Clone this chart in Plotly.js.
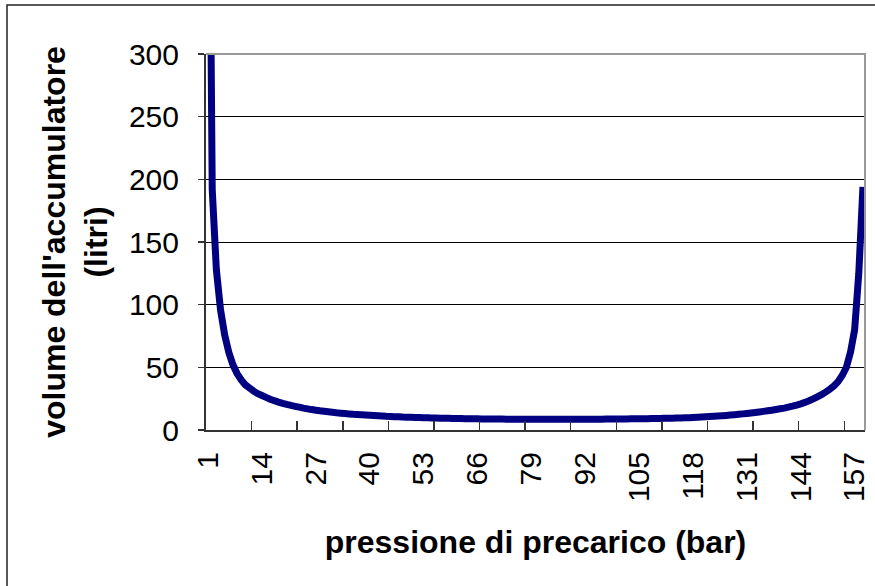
<!DOCTYPE html>
<html>
<head>
<meta charset="utf-8">
<script src="https://cdn.plot.ly/plotly-3.0.1.min.js"></script>
<style>
html,body{margin:0;padding:0;background:#fff;}
#chart{width:875px;height:586px;}
</style>
</head>
<body>
<div id="chart"></div>
<script>
// precharge pressure categories (bar): 1 .. 159
const pressure = Array.from({length: 159}, (_, i) => i + 1);

// accumulator volume (litres), one value per category
const volume = [
  600, 192, 128, 96, 76, 62, 52, 45, 40, 36,
  33.5, 31, 29, 27.5, 26, 24.6, 23.4, 22.3, 21.3, 20.4,
  19.6, 18.9, 18.2, 17.5, 16.9, 16.3, 15.8, 15.3, 14.9, 14.5,
  14.1, 13.7, 13.4, 13.1, 12.8, 12.5, 12.3, 12.1, 11.9, 11.7,
  11.5, 11.3, 11.1, 10.9, 10.8, 10.6, 10.5, 10.3, 10.2, 10.1,
  10.0, 9.9, 9.8, 9.7, 9.6, 9.5, 9.4, 9.35, 9.3, 9.2,
  9.15, 9.1, 9.0, 9.0, 8.95, 8.9, 8.85, 8.8, 8.8, 8.75,
  8.7, 8.7, 8.65, 8.6, 8.6, 8.6, 8.55, 8.55, 8.5, 8.5,
  8.5, 8.5, 8.5, 8.5, 8.5, 8.5, 8.5, 8.5, 8.5, 8.5,
  8.55, 8.55, 8.6, 8.6, 8.6, 8.65, 8.7, 8.7, 8.75, 8.8,
  8.8, 8.85, 8.9, 8.9, 8.95, 9.0, 9.05, 9.1, 9.15, 9.2,
  9.3, 9.35, 9.4, 9.5, 9.6, 9.7, 9.85, 10.0, 10.15, 10.3,
  10.5, 10.7, 10.9, 11.1, 11.35, 11.6, 11.9, 12.2, 12.5, 12.85,
  13.2, 13.6, 14.0, 14.4, 14.85, 15.3, 15.8, 16.35, 16.9, 17.5,
  18.2, 19.0, 19.9, 20.9, 22.0, 23.3, 24.8, 26.4, 28.2, 30.2,
  32.5, 35.2, 38.6, 43.5, 50, 62, 80, 125, 194
];

// category tick labels shown on the x axis
const xTickLabels = [1, 14, 27, 40, 53, 66, 79, 92, 105, 118, 131, 144, 157];
// y axis tick values
const yTickVals = [0, 50, 100, 150, 200, 250, 300];

const N = pressure.length;
const tickMarkEvery = 11;
const tickMarkPos = [];
for (let p = 0.5; p <= N + 0.5; p += tickMarkEvery) tickMarkPos.push(p);

const FONT = 'Liberation Sans, Arial, Helvetica, sans-serif';
const W = 875, H = 586;
const M = {l: 206, r: 10, t: 54, b: 156, pad: 0};
const pw = W - M.l - M.r, ph = H - M.t - M.b;
const px = v => (v - M.l) / pw;
const py = v => 1 - (v - M.t) / ph;

const traces = [
  {
    type: 'scatter', mode: 'lines',
    x: pressure, y: volume,
    line: {color: '#000080', width: 7, shape: 'linear', simplify: false},
    hoverinfo: 'x+y', showlegend: false
  },
  {
    type: 'scatter', mode: 'lines',
    x: [pressure[0]], y: [volume[N - 1]],
    xaxis: 'x2', yaxis: 'y',
    line: {width: 0}, hoverinfo: 'skip', showlegend: false
  }
];

const layout = {
  width: W, height: H,
  margin: M,
  paper_bgcolor: '#ffffff',
  plot_bgcolor: '#ffffff',
  font: {family: FONT, color: '#000', size: 30},
  showlegend: false,
  xaxis: {
    type: 'linear',
    range: [0.5, N + 0.5],
    tickmode: 'array',
    tickvals: xTickLabels,
    ticktext: xTickLabels.map(String),
    tickangle: -90,
    ticks: '',
    ticklabelstandoff: 8,
    tickfont: {family: FONT, size: 30, color: '#000'},
    showgrid: false, zeroline: false,
    showline: true, linecolor: '#333', linewidth: 2,
    title: {text: 'pressione di precarico (bar)', font: {family: FONT, size: 32, color: '#000', weight: 'bold'}, standoff: 30},
    fixedrange: true
  },
  xaxis2: {
    overlaying: 'x', anchor: 'y', side: 'bottom',
    range: [0.5, N + 0.5],
    tickmode: 'array', tickvals: tickMarkPos,
    ticks: 'inside', ticklen: 9, tickwidth: 1.5, tickcolor: '#333',
    showticklabels: false, showgrid: false, zeroline: false, showline: false,
    fixedrange: true
  },
  yaxis: {
    range: [0, 300],
    tickmode: 'array', tickvals: yTickVals,
    ticks: 'outside', ticklen: 6, tickwidth: 1.5, tickcolor: '#333',
    ticklabelstandoff: 13,
    tickfont: {family: FONT, size: 30, color: '#000'},
    showgrid: true, gridcolor: '#000', gridwidth: 1,
    zeroline: false,
    showline: true, linecolor: '#333', linewidth: 2,
    title: {text: "volume dell'accumulatore<br>(litri)", font: {family: FONT, size: 32, color: '#000', weight: 'bold'}, standoff: 12},
    fixedrange: true
  },
  shapes: [
    // plot-area border (top and right), grey
    {type: 'path', xref: 'paper', yref: 'paper', layer: 'above',
     path: 'M 0 1 L 1 1 L 1 0', line: {color: '#999', width: 2}},
    // chart-area border
    {type: 'rect', xref: 'paper', yref: 'paper', layer: 'above',
     x0: px(7), x1: px(W + 20), y0: py(H + 20), y1: py(5),
     line: {color: '#222', width: 1.5}, fillcolor: 'rgba(0,0,0,0)'}
  ]
};

Plotly.newPlot('chart', traces, layout, {displayModeBar: false, staticPlot: true});
</script>
</body>
</html>
